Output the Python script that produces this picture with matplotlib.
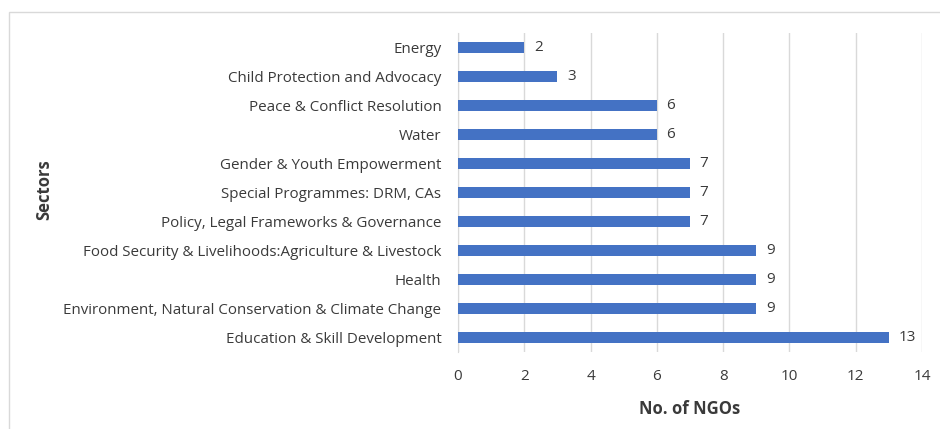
import matplotlib
matplotlib.use('Agg')
import matplotlib.pyplot as plt
from matplotlib.patches import Rectangle

# NGOs per sector
sectors = [
    'Education & Skill Development',
    'Environment, Natural Conservation & Climate Change',
    'Health',
    'Food Security & Livelihoods:Agriculture & Livestock',
    'Policy, Legal Frameworks & Governance',
    'Special Programmes: DRM, CAs',
    'Gender & Youth Empowerment',
    'Water',
    'Peace & Conflict Resolution',
    'Child Protection and Advocacy',
    'Energy',
]
counts = [13, 9, 9, 9, 7, 7, 7, 6, 6, 3, 2]
xticks = [0, 2, 4, 6, 8, 10, 12, 14]

plt.rcParams['font.family'] = ['Open Sans', 'DejaVu Sans']
text_col = '#3a3a3a'
bar_col = '#4472C4'
grid_col = '#D9D9D9'

fig = plt.figure(figsize=(9.4, 4.29), dpi=100)
ax = fig.add_axes([458/940, 1 - 352/429, (922 - 458)/940, (352 - 33)/429])

ypos = list(range(len(sectors)))
ax.barh(ypos, counts, height=0.38, color=bar_col, zorder=3)
for y, v in zip(ypos, counts):
    ax.annotate(str(v), xy=(v, y), xytext=(7, 0), textcoords='offset points',
                va='center', ha='left', fontsize=11, color=text_col)

ax.set_xlim(0, 14)
ax.set_ylim(-0.5, len(sectors) - 0.5)
ax.set_xticks(xticks)
ax.set_xticklabels([str(t) for t in xticks], fontsize=11, color=text_col)
ax.set_yticks(ypos)
ax.set_yticklabels(sectors, fontsize=10.9, color=text_col)
ax.tick_params(axis='both', length=0)
ax.tick_params(axis='x', pad=12)
ax.tick_params(axis='y', pad=12)
ax.grid(axis='x', color=grid_col, linewidth=1, zorder=0)
for s in ['top', 'right', 'bottom']:
    ax.spines[s].set_visible(False)
ax.spines['left'].set_color(grid_col)

ax.set_xlabel('No. of NGOs', fontsize=12, fontweight='bold', color=text_col, labelpad=12)
fig.text(44/940, 1 - 190/429, 'Sectors', rotation=90, fontsize=12, fontweight='bold',
         color=text_col, ha='center', va='center')

# chart frame
fig.patches.append(Rectangle((8.5/940, -0.1), 1.2, 1.1 - 12.5/429, transform=fig.transFigure,
                             fill=False, edgecolor=grid_col, linewidth=1))

fig.savefig('out.png', dpi=100)
